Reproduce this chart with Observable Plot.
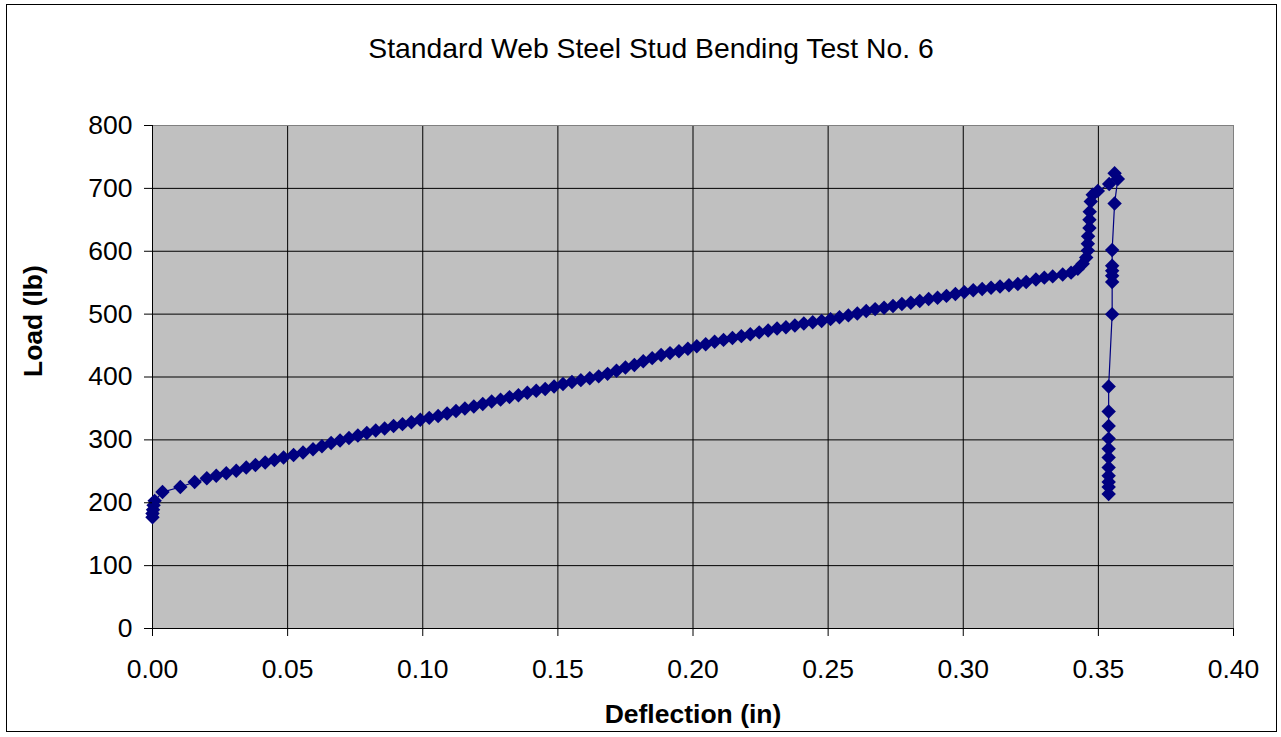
<!DOCTYPE html>
<html>
<head>
<meta charset="utf-8">
<script src="https://cdn.jsdelivr.net/npm/d3@7"></script>
<script src="https://cdn.jsdelivr.net/npm/@observablehq/plot@0.6"></script>
<style>
  html, body { margin: 0; padding: 0; background: #ffffff; }
  #wrap { position: relative; width: 1281px; height: 737px; font-family: "Liberation Sans", Arial, sans-serif; }
  #border { position: absolute; left: 6px; top: 4px; width: 1271px; height: 728px; border: 1px solid #000; box-sizing: border-box; pointer-events: none; }
  #title { position: absolute; left: 0; width: 1302px; top: 34px; text-align: center; font-size: 28.3px; line-height: 1; color: #000; }
  #chart { position: absolute; left: 0; top: 0; }
</style>
</head>
<body>
<div id="wrap">
  <div id="chart"></div>
  <div id="border"></div>
  <div id="title">Standard Web Steel Stud Bending Test No. 6</div>
</div>
<script>
const titleText = "Standard Web Steel Stud Bending Test No. 6";
const xLabel = "Deflection (in)";
const yLabel = "Load (lb)";
const xTicks = [0.00, 0.05, 0.10, 0.15, 0.20, 0.25, 0.30, 0.35, 0.40];
const yTicks = [0, 100, 200, 300, 400, 500, 600, 700, 800];

// Deflection (in)
const deflection = [
  0.0000, 0.0000, 0.0002, 0.0004, 0.0008, 0.0037, 0.0103, 0.0156, 0.0201, 0.0236,
  0.0273, 0.0310, 0.0347, 0.0381, 0.0417, 0.0451, 0.0485, 0.0522, 0.0557, 0.0594,
  0.0627, 0.0661, 0.0694, 0.0727, 0.0760, 0.0793, 0.0826, 0.0859, 0.0892, 0.0925,
  0.0958, 0.0991, 0.1024, 0.1057, 0.1090, 0.1123, 0.1156, 0.1189, 0.1222, 0.1255,
  0.1288, 0.1321, 0.1354, 0.1387, 0.1420, 0.1453, 0.1486, 0.1519, 0.1552, 0.1585,
  0.1618, 0.1651, 0.1684, 0.1717, 0.1750, 0.1783, 0.1816, 0.1849, 0.1882, 0.1915,
  0.1948, 0.1981, 0.2014, 0.2047, 0.2080, 0.2113, 0.2146, 0.2179, 0.2212, 0.2245,
  0.2278, 0.2311, 0.2344, 0.2377, 0.2410, 0.2443, 0.2476, 0.2509, 0.2542, 0.2575,
  0.2608, 0.2641, 0.2674, 0.2707, 0.2740, 0.2773, 0.2806, 0.2839, 0.2872, 0.2905,
  0.2938, 0.2971, 0.3004, 0.3037, 0.3070, 0.3103, 0.3136, 0.3169, 0.3202, 0.3233,
  0.3269, 0.3300, 0.3331, 0.3368, 0.3399, 0.3424, 0.3442, 0.3455, 0.3461, 0.3461,
  0.3462, 0.3467, 0.3467, 0.3468, 0.3472, 0.3479, 0.3498, 0.3540, 0.3560, 0.3572,
  0.3560, 0.3551, 0.3551, 0.3551, 0.3551, 0.3551, 0.3551, 0.3538, 0.3538, 0.3538,
  0.3538, 0.3538, 0.3538, 0.3538, 0.3538, 0.3538, 0.3538, 0.3538
];
// Load (lb)
const load = [
  177, 183, 189, 196, 203, 217, 225, 233, 239, 243,
  247, 251, 256, 260, 264, 268, 272, 276, 280, 285,
  290, 295, 299, 303, 307, 311, 315, 318, 322, 325,
  328, 332, 335, 338, 342, 346, 350, 353, 357, 361,
  364, 368, 371, 375, 378, 381, 385, 389, 392, 395,
  398, 401, 405, 410, 415, 419, 425, 430, 435, 438,
  441, 445, 449, 452, 456, 459, 462, 465, 468, 471,
  474, 477, 479, 482, 485, 487, 489, 492, 495, 498,
  501, 505, 508, 510, 513, 516, 518, 521, 524, 526,
  529, 532, 535, 538, 540, 542, 544, 546, 548, 551,
  555, 558, 560, 563, 566, 572, 580, 590, 601, 612,
  624, 637, 650, 663, 679, 690, 696, 707, 724, 715,
  676, 602, 577, 569, 561, 551, 500, 385, 345, 322,
  302, 286, 272, 256, 243, 233, 225, 214
];

const data = deflection.map((d, i) => ({x: d, y: load[i]}));
const navy = "#000080";
const fontSize = 26.5;

const chart = Plot.plot({
  width: 1281,
  height: 737,
  marginLeft: 152,
  marginRight: 48,
  marginTop: 125,
  marginBottom: 109,
  style: {fontFamily: "'Liberation Sans', Arial, sans-serif", fontSize: fontSize + "px", background: "transparent", color: "#000"},
  x: {domain: [xTicks[0], xTicks[xTicks.length - 1]]},
  y: {domain: [yTicks[0], yTicks[yTicks.length - 1]]},
  marks: [
    Plot.frame({fill: "#C0C0C0", stroke: null}),
    Plot.gridX(xTicks.slice(1, -1), {stroke: "#000", strokeOpacity: 1, strokeWidth: 1}),
    Plot.gridY(yTicks.slice(1, -1), {stroke: "#000", strokeOpacity: 1, strokeWidth: 1}),
    Plot.ruleY([yTicks[yTicks.length - 1]], {stroke: "#808080"}),
    Plot.ruleX([xTicks[xTicks.length - 1]], {stroke: "#808080"}),
    Plot.ruleX([xTicks[0]], {stroke: "#000"}),
    Plot.ruleY([yTicks[0]], {stroke: "#000"}),
    Plot.line(data, {x: "x", y: "y", stroke: navy, strokeWidth: 1.2}),
    Plot.dot(data, {x: "x", y: "y", symbol: "diamond2", r: 6.5, fill: navy, stroke: null}),
    Plot.axisX(xTicks, {tickSize: 8, tickPadding: 23, tickFormat: d => d.toFixed(2), fontSize: fontSize, label: null, stroke: "#000"}),
    Plot.axisY(yTicks, {tickSize: 8, tickPadding: 12, tickFormat: d => String(d), fontSize: fontSize, label: null, stroke: "#000"}),
    Plot.text([xLabel], {frameAnchor: "bottom", dy: 94, fontWeight: "bold", fontSize: fontSize, fill: "#000"}),
    Plot.text([yLabel], {frameAnchor: "left", dx: -119, rotate: -90, fontWeight: "bold", fontSize: fontSize, fill: "#000"})
  ]
});
document.getElementById("chart").appendChild(chart);
</script>
</body>
</html>
